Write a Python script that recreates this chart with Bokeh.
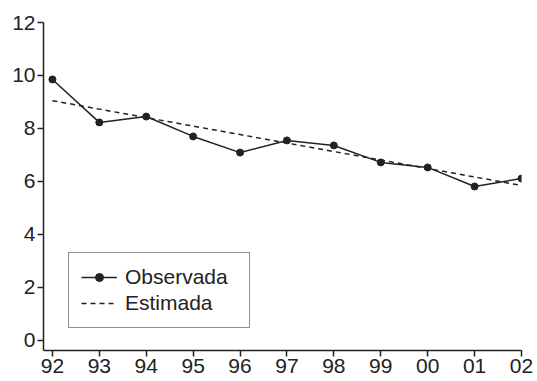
from bokeh.plotting import figure
from bokeh.models import Range1d, FixedTicker, Legend, LegendItem
from bokeh.embed import file_html
from bokeh.resources import INLINE

years = [92, 93, 94, 95, 96, 97, 98, 99, 100, 101, 102]
year_labels = ["92", "93", "94", "95", "96", "97", "98", "99", "00", "01", "02"]
observada = [9.85, 8.23, 8.45, 7.70, 7.09, 7.55, 7.36, 6.72, 6.53, 5.81, 6.11]
estimada = [9.05, 8.73, 8.41, 8.09, 7.77, 7.45, 7.13, 6.81, 6.49, 6.17, 5.85]
y_ticks = [0, 2, 4, 6, 8, 10, 12]

p = figure(width=535, height=380, output_backend="svg", toolbar_location=None,
           x_range=Range1d(91.81, 102), y_range=Range1d(-0.38, 12))
p.min_border_left = 43
p.min_border_right = 14
p.min_border_top = 22
p.min_border_bottom = 30
p.outline_line_color = None
p.xgrid.visible = False
p.ygrid.visible = False

ink = "#222222"
for ax in (p.xaxis[0], p.yaxis[0]):
    ax.axis_line_color = ink
    ax.axis_line_width = 1.5
    ax.major_tick_line_color = ink
    ax.major_tick_line_width = 1.5
    ax.major_tick_in = 0
    ax.major_tick_out = 6
    ax.minor_tick_line_color = None
    ax.major_label_text_font = "Liberation Sans"
    ax.major_label_text_font_size = "21px"
    ax.major_label_text_color = ink
    ax.major_label_standoff = 2

p.xaxis.ticker = FixedTicker(ticks=years)
p.xaxis.major_label_overrides = {y: l for y, l in zip(years, year_labels)}
p.yaxis.ticker = FixedTicker(ticks=y_ticks)

est = p.line(years, estimada, line_color=ink, line_width=1.5, line_dash="5 4")
obs_l = p.line(years, observada, line_color=ink, line_width=1.5)
obs_c = p.scatter(years, observada, size=7, fill_color=ink, line_color=ink)

legend = Legend(items=[LegendItem(label="Observada", renderers=[obs_l, obs_c]),
                       LegendItem(label="Estimada", renderers=[est])],
                location=(25, 22))
legend.border_line_color = ink
legend.border_line_width = 1.5
legend.background_fill_color = "white"
legend.label_text_font = "Liberation Sans"
legend.label_text_font_size = "21px"
legend.label_text_color = ink
legend.glyph_width = 36
legend.label_width = 112
legend.label_standoff = 8
legend.padding = 12
legend.spacing = 2
legend.margin = 0
p.add_layout(legend, "center")

open("out.html", "w").write(file_html(p, INLINE))
